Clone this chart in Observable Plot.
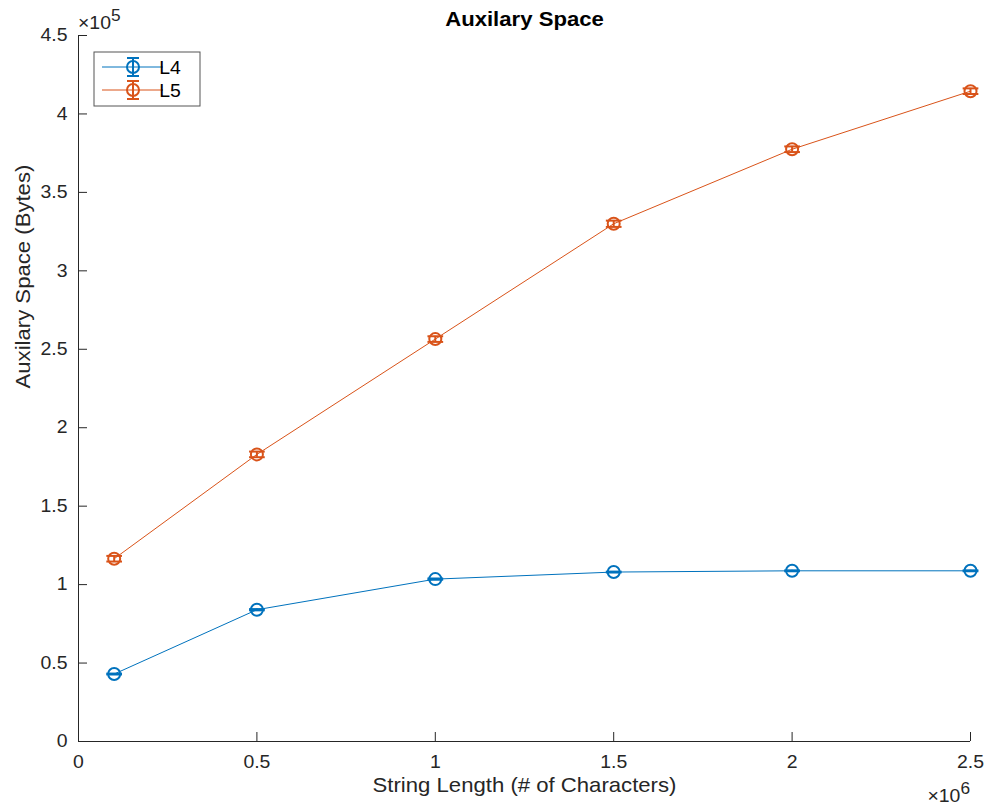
<!DOCTYPE html>
<html>
<head>
<meta charset="utf-8">
<script src="https://cdn.jsdelivr.net/npm/d3@7"></script>
<script src="https://cdn.jsdelivr.net/npm/@observablehq/plot@0.6"></script>
<style>
  html, body { margin: 0; padding: 0; background: #fff; }
  #chart svg { display: block; }
</style>
</head>
<body>
<div id="chart"></div>
<script>
// String lengths (characters) at which the auxiliary space was measured
const lengths = [1e5, 5e5, 1e6, 1.5e6, 2e6, 2.5e6];
// Mean auxiliary space in bytes for each algorithm
const l4Space = [43000, 84000, 103500, 108000, 108800, 108800];
const l5Space = [116500, 183000, 256500, 330000, 377500, 414500];
// Standard deviation (bytes) shown as error bars
const l4Err = [300, 400, 400, 300, 300, 300];
const l5Err = [1800, 1800, 1800, 2000, 1800, 1800];
const seriesNames = ["L4", "L5"];
const seriesColors = ["#0072BD", "#D95319"];
const xTicks = [0, 5e5, 1e6, 1.5e6, 2e6, 2.5e6];
const yTicks = [0, 5e4, 1e5, 1.5e5, 2e5, 2.5e5, 3e5, 3.5e5, 4e5, 4.5e5];

const rows = [];
lengths.forEach((x, i) => {
  rows.push({series: seriesNames[0], x, y: l4Space[i], err: l4Err[i]});
  rows.push({series: seriesNames[1], x, y: l5Space[i], err: l5Err[i]});
});

const capHalf = 2.2e4; // half width of error-bar caps, in x units
const axisColor = "#262626";
const font = "'Liberation Sans', Arial, Helvetica, sans-serif";
const tickFont = 18, labelFont = 20.5;
const widen = 1.08; // Helvetica-like letter width
const fmtX = d => d3.format("~g")(d / 1e6);
const fmtY = d => d3.format("~g")(d / 1e5);
const none = () => "";

const plot = Plot.plot({
  width: 989,
  height: 806,
  marginLeft: 78,
  marginRight: 19,
  marginTop: 35,
  marginBottom: 65,
  style: {fontFamily: font, fontSize: `${tickFont}px`, color: axisColor, background: "#fff"},
  x: {domain: [0, 2.5e6]},
  y: {domain: [0, 4.5e5]},
  color: {domain: seriesNames, range: seriesColors},
  marks: [
    // inward ticks
    Plot.axisX({ticks: xTicks, tickSize: -9, tickFormat: none, label: null, stroke: axisColor}),
    Plot.axisY({ticks: yTicks, tickSize: -9, tickFormat: none, label: null, stroke: axisColor}),
    // tick labels
    Plot.axisX({ticks: xTicks, tickSize: 0, tickPadding: 14, tickFormat: fmtX, label: null, fill: axisColor, fontSize: tickFont}),
    Plot.axisY({ticks: yTicks, tickSize: 0, tickPadding: 11, tickFormat: fmtY, label: null, fill: axisColor, fontSize: tickFont}),
    Plot.ruleX([0], {stroke: axisColor}),
    Plot.ruleY([0], {stroke: axisColor}),
    // connecting lines
    Plot.line(rows, {x: "x", y: "y", z: "series", stroke: "series", strokeWidth: 1}),
    // error bars
    Plot.ruleX(rows, {x: "x", y1: d => d.y - d.err, y2: d => d.y + d.err, stroke: "series", strokeWidth: 2}),
    Plot.link(rows, {x1: d => d.x - capHalf, x2: d => d.x + capHalf, y1: d => d.y - d.err, y2: d => d.y - d.err, stroke: "series", strokeWidth: 2}),
    Plot.link(rows, {x1: d => d.x - capHalf, x2: d => d.x + capHalf, y1: d => d.y + d.err, y2: d => d.y + d.err, stroke: "series", strokeWidth: 2}),
    // markers
    Plot.dot(rows, {x: "x", y: "y", stroke: "series", fill: "none", r: 6, strokeWidth: 2}),
    // axis titles and chart title
    Plot.text(["String Length (# of Characters)"], {frameAnchor: "bottom", dy: 50, fontSize: labelFont, fill: axisColor}),
    Plot.text(["Auxilary Space (Bytes)"], {frameAnchor: "left", dx: -55, rotate: -90, fontSize: labelFont, fill: axisColor}),
    Plot.text(["Auxilary Space"], {frameAnchor: "top", dy: -24, fontSize: labelFont, fontWeight: "bold", fill: "#000"})
  ]
});

const svg = d3.select(plot);
const sx = plot.scale("x"), sy = plot.scale("y");

// exponent multipliers for the axes
function exponent(x, y, power, anchor) {
  const t = svg.append("text")
    .attr("x", x).attr("y", y)
    .attr("text-anchor", anchor)
    .attr("font-family", font).attr("font-size", tickFont)
    .attr("fill", axisColor);
  t.append("tspan").text("\u00d710");
  t.append("tspan").attr("dy", -8).attr("font-size", 16).text(power);
}
exponent(sx.apply(0), sy.apply(4.5e5) - 6, "5", "start");
exponent(sx.apply(2.5e6), sy.apply(0) + 61, "6", "end");

// legend box
const lg = svg.append("g").attr("transform", `translate(${sx.apply(0) + 16},${sy.apply(4.5e5) + 17})`);
lg.append("rect").attr("width", 106).attr("height", 54)
  .attr("fill", "#fff").attr("stroke", "#555").attr("stroke-width", 1);
seriesNames.forEach((name, i) => {
  const g = lg.append("g").attr("transform", `translate(0,${15 + i * 23})`);
  const c = seriesColors[i];
  g.append("line").attr("x1", 8).attr("x2", 69).attr("stroke", c).attr("stroke-width", 1);
  g.append("line").attr("x1", 39).attr("x2", 39).attr("y1", -9).attr("y2", 9).attr("stroke", c).attr("stroke-width", 2);
  g.append("line").attr("x1", 33).attr("x2", 45).attr("y1", -9).attr("y2", -9).attr("stroke", c).attr("stroke-width", 2);
  g.append("line").attr("x1", 33).attr("x2", 45).attr("y1", 9).attr("y2", 9).attr("stroke", c).attr("stroke-width", 2);
  g.append("circle").attr("cx", 39).attr("r", 6).attr("fill", "none").attr("stroke", c).attr("stroke-width", 2);
  g.append("text").attr("x", 76).attr("y", 7).attr("font-family", font).attr("font-size", tickFont)
    .attr("fill", "#000").text(name);
});

// widen every text slightly along its baseline
const isNum = v => v != null && v.trim() !== "" && isFinite(+v);
svg.selectAll("text").each(function () {
  let x = 0, y = 0;
  const ax = this.getAttribute("x"), ay = this.getAttribute("y");
  if (isNum(ax)) { x = +ax; this.removeAttribute("x"); }
  if (isNum(ay)) { y = +ay; this.removeAttribute("y"); }
  const t = this.getAttribute("transform") || "";
  this.setAttribute("transform", `${t} translate(${x},${y}) scale(${widen},1)`);
});

document.getElementById("chart").appendChild(plot);
</script>
</body>
</html>
